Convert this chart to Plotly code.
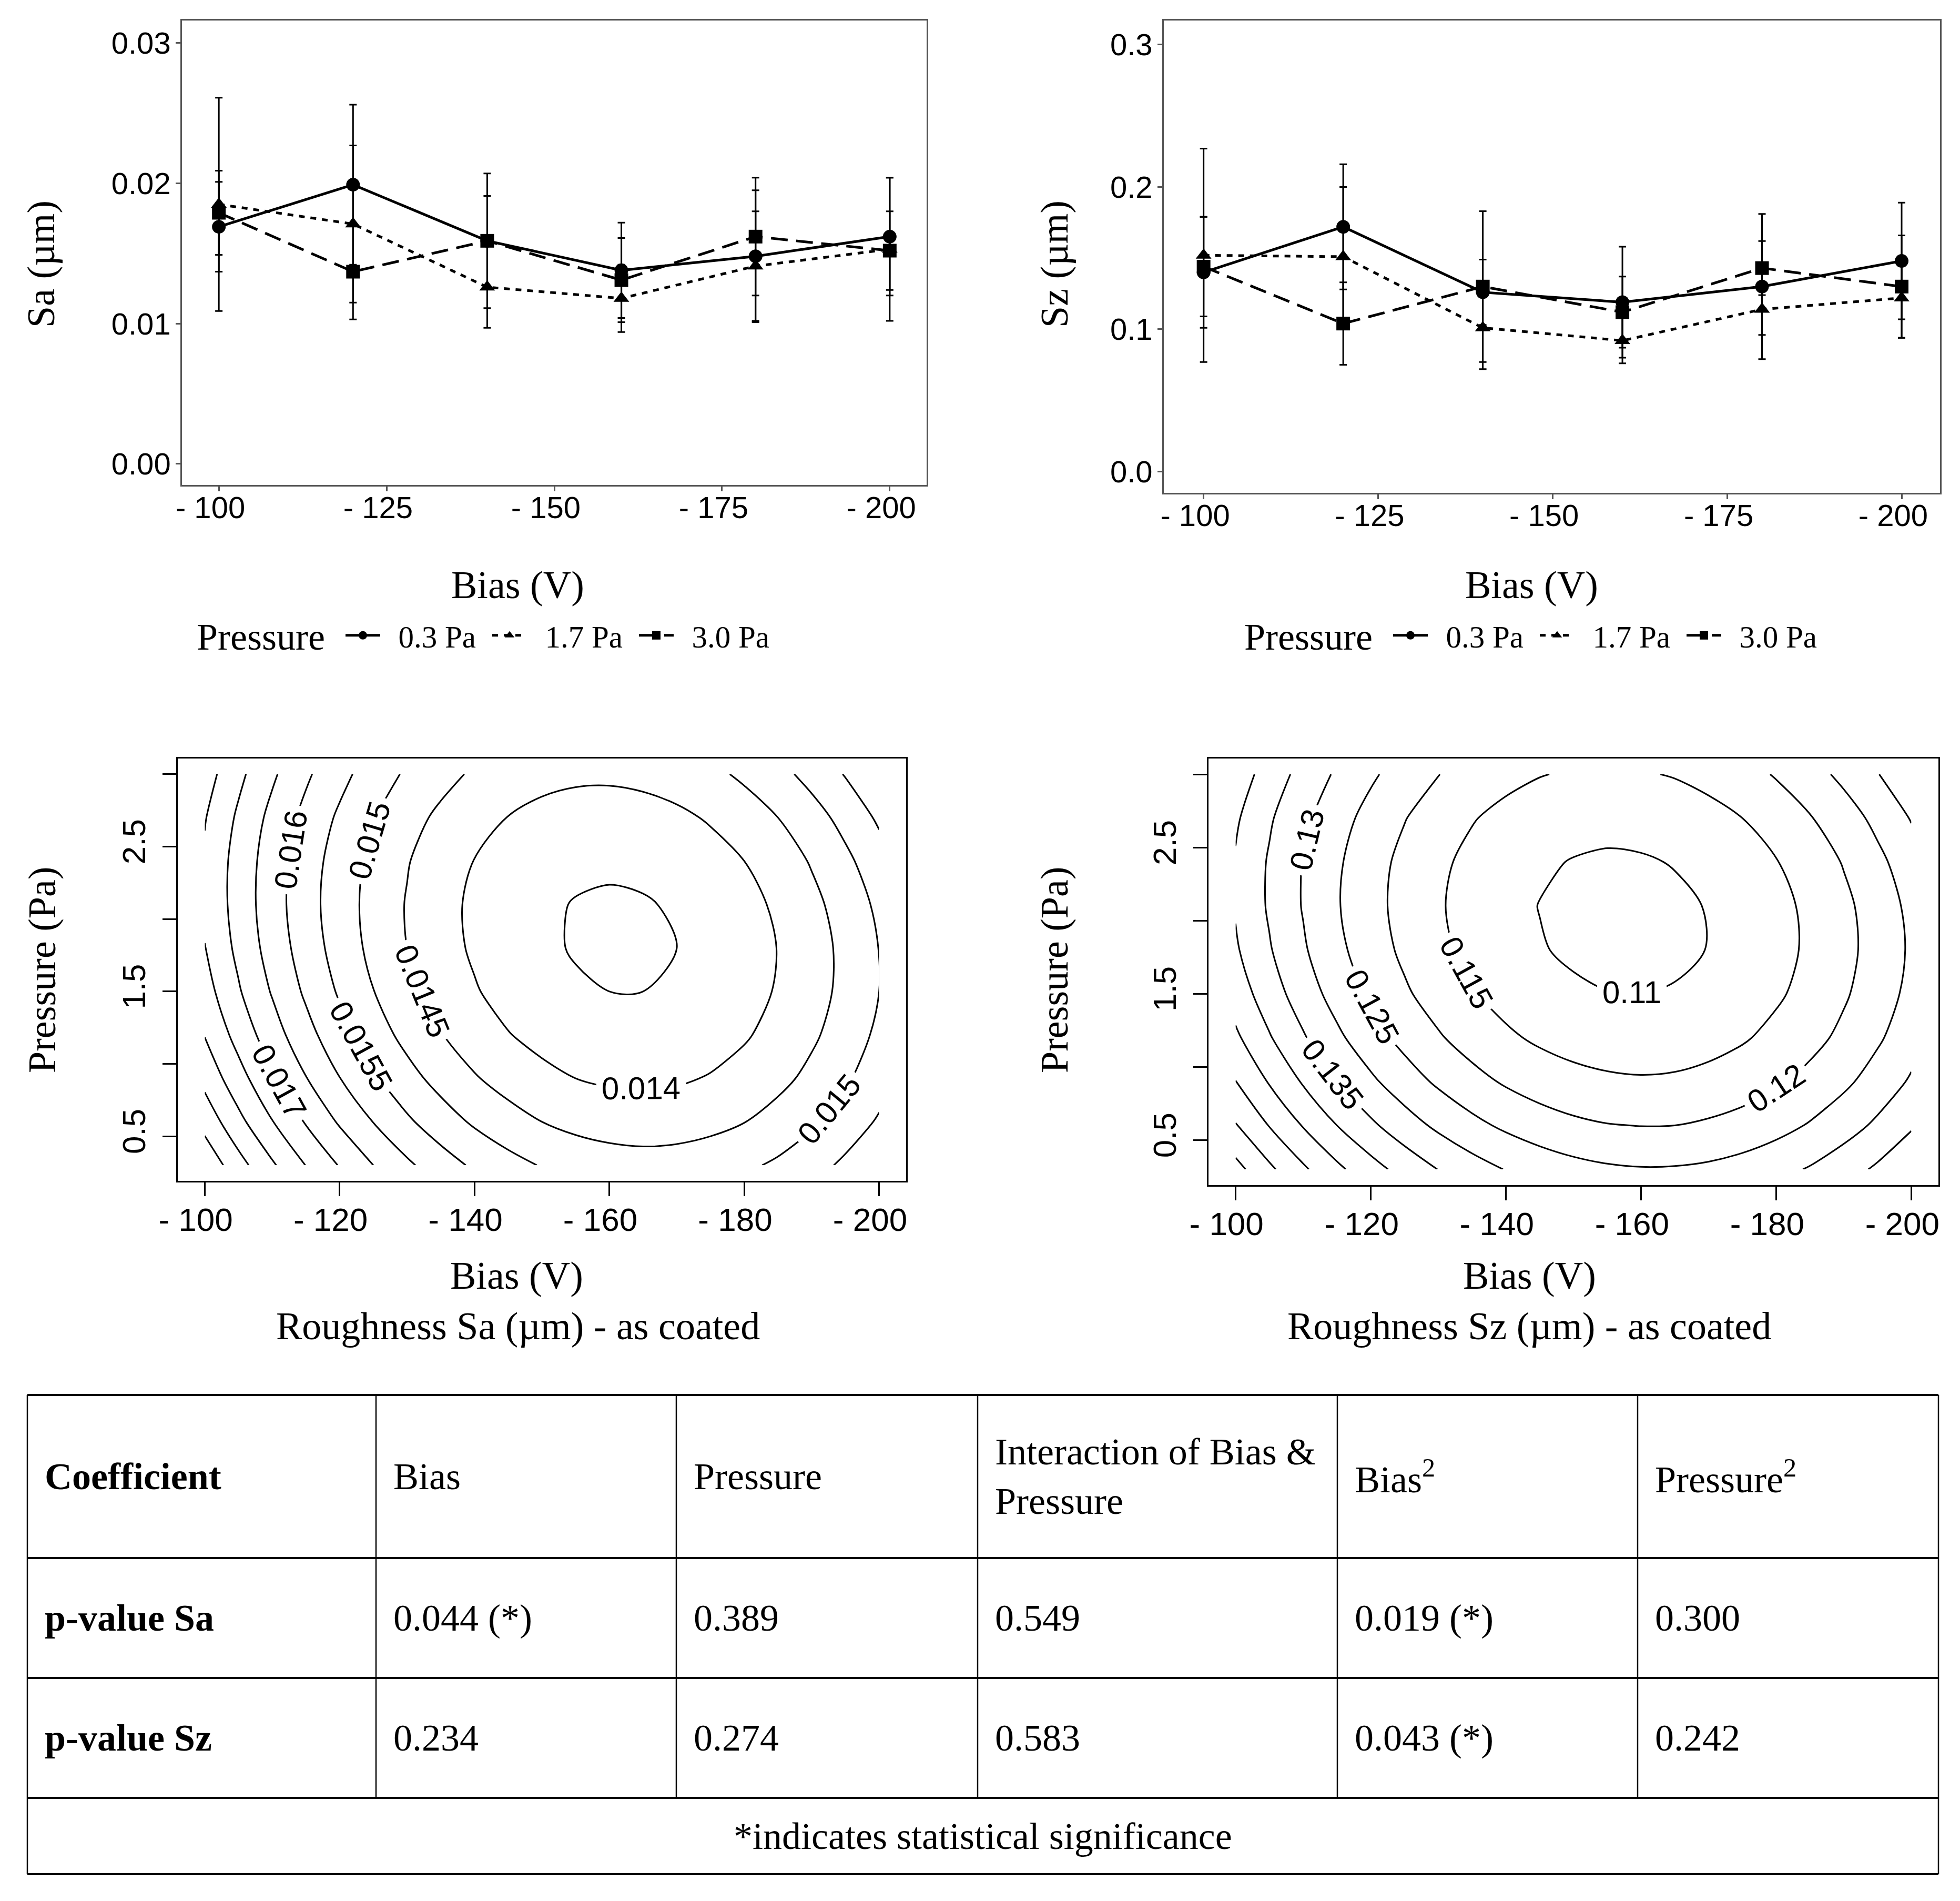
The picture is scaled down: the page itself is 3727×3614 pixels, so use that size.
import plotly.graph_objects as go

W, H = 3727, 3614
SERIF = 'Liberation Serif'
SANS = 'Liberation Sans'


def fx(p):
    return p / W


def fy(p):
    return 1 - p / H


# mean roughness vs bias voltage
bias = [-100, -120, -140, -160, -180, -200]
pressure_names = ['0.3 Pa', '1.7 Pa', '3.0 Pa']

sa_03 = [0.0169, 0.0199, 0.0159, 0.0138, 0.0148, 0.0162]
sa_17 = [0.0185, 0.0171, 0.0126, 0.0118, 0.0141, 0.0153]
sa_30 = [0.0179, 0.0137, 0.0159, 0.0131, 0.0162, 0.0152]
sa_03_err = [0.0032, 0.0057, 0.0048, 0.0034, 0.0047, 0.0042]
sa_17_err = [0.0076, 0.0056, 0.0029, 0.0024, 0.0039, 0.0051]
sa_30_err = [0.0030, 0.0034, 0.0032, 0.0030, 0.0042, 0.0028]

sz_03 = [0.140, 0.172, 0.126, 0.119, 0.130, 0.148]
sz_17 = [0.152, 0.151, 0.101, 0.092, 0.114, 0.122]
sz_30 = [0.144, 0.104, 0.130, 0.112, 0.143, 0.130]
sz_03_err = [0.039, 0.044, 0.023, 0.039, 0.051, 0.041]
sz_17_err = [0.075, 0.049, 0.029, 0.016, 0.018, 0.028]
sz_30_err = [0.035, 0.029, 0.053, 0.025, 0.019, 0.036]

# response surfaces, estimated from the contour plots on a 5 V x 0.3 Pa grid
bias_grid = [-100, -105, -110, -115, -120, -125, -130, -135, -140, -145, -150,
             -155, -160, -165, -170, -175, -180, -185, -190, -195, -200]
press_grid = [0.3, 0.6, 0.9, 1.2, 1.5, 1.8, 2.1, 2.4, 2.7, 3.0]

# Sa in units of 1e-5 um, one row per pressure
sa_grid_1e5 = [
    [1938, 1869, 1807, 1749, 1697, 1650, 1609, 1573, 1542, 1517, 1497, 1482, 1473, 1469, 1471, 1478, 1491, 1508, 1531, 1560, 1594],
    [1882, 1814, 1752, 1696, 1644, 1599, 1558, 1523, 1493, 1469, 1450, 1436, 1428, 1425, 1428, 1436, 1449, 1468, 1492, 1522, 1556],
    [1835, 1769, 1707, 1652, 1601, 1557, 1517, 1483, 1454, 1431, 1413, 1400, 1393, 1391, 1394, 1403, 1417, 1437, 1462, 1493, 1528],
    [1798, 1732, 1672, 1617, 1568, 1524, 1485, 1452, 1424, 1402, 1385, 1373, 1367, 1366, 1370, 1380, 1395, 1416, 1442, 1473, 1510],
    [1770, 1705, 1646, 1592, 1544, 1501, 1463, 1431, 1404, 1382, 1366, 1355, 1350, 1350, 1355, 1366, 1382, 1404, 1430, 1463, 1500],
    [1751, 1688, 1629, 1577, 1529, 1487, 1450, 1419, 1393, 1372, 1357, 1347, 1343, 1344, 1350, 1362, 1379, 1401, 1429, 1462, 1501],
    [1742, 1680, 1622, 1570, 1524, 1483, 1447, 1416, 1391, 1372, 1357, 1348, 1345, 1347, 1354, 1366, 1384, 1408, 1437, 1471, 1510],
    [1743, 1681, 1625, 1574, 1528, 1488, 1453, 1423, 1399, 1380, 1367, 1359, 1356, 1359, 1367, 1381, 1400, 1424, 1454, 1489, 1529],
    [1753, 1692, 1636, 1586, 1542, 1502, 1468, 1440, 1417, 1399, 1386, 1379, 1378, 1381, 1390, 1405, 1425, 1450, 1480, 1516, 1558],
    [1772, 1712, 1658, 1608, 1565, 1526, 1493, 1466, 1443, 1426, 1415, 1409, 1408, 1413, 1423, 1438, 1459, 1485, 1516, 1553, 1596],
]
# Sz in units of 1e-4 um, one row per pressure
sz_grid_1e4 = [
    [1617, 1560, 1508, 1461, 1419, 1382, 1349, 1321, 1298, 1280, 1266, 1257, 1253, 1254, 1259, 1269, 1285, 1304, 1329, 1358, 1392],
    [1553, 1498, 1447, 1400, 1359, 1322, 1290, 1263, 1241, 1223, 1210, 1202, 1199, 1200, 1207, 1218, 1233, 1254, 1279, 1309, 1344],
    [1501, 1446, 1395, 1350, 1309, 1273, 1242, 1216, 1194, 1177, 1165, 1158, 1155, 1157, 1164, 1176, 1193, 1214, 1240, 1271, 1306],
    [1459, 1404, 1355, 1310, 1270, 1235, 1205, 1179, 1158, 1142, 1131, 1124, 1122, 1125, 1133, 1145, 1163, 1185, 1211, 1243, 1279],
    [1427, 1374, 1325, 1281, 1242, 1207, 1178, 1153, 1133, 1117, 1107, 1101, 1100, 1103, 1112, 1125, 1143, 1166, 1194, 1226, 1263],
    [1406, 1354, 1306, 1262, 1224, 1190, 1161, 1137, 1118, 1103, 1093, 1088, 1088, 1092, 1101, 1115, 1134, 1158, 1186, 1219, 1257],
    [1396, 1344, 1297, 1254, 1216, 1184, 1155, 1132, 1113, 1099, 1090, 1086, 1086, 1092, 1102, 1116, 1136, 1160, 1189, 1223, 1262],
    [1396, 1345, 1298, 1257, 1220, 1187, 1160, 1137, 1119, 1106, 1098, 1094, 1096, 1102, 1112, 1128, 1148, 1173, 1203, 1238, 1277],
    [1407, 1356, 1311, 1270, 1233, 1202, 1175, 1153, 1136, 1124, 1116, 1113, 1115, 1122, 1134, 1150, 1171, 1197, 1227, 1263, 1303],
    [1428, 1378, 1333, 1293, 1258, 1227, 1201, 1180, 1164, 1152, 1145, 1143, 1146, 1153, 1165, 1182, 1204, 1231, 1262, 1298, 1339],
]
sa_grid = [[v / 1e5 for v in row] for row in sa_grid_1e5]
sz_grid = [[v / 1e4 for v in row] for row in sz_grid_1e4]

# regression table
table_header = ['<b>Coefficient</b>', 'Bias', 'Pressure', 'Interaction of Bias &<br>Pressure',
                'Bias<sup>2</sup>', 'Pressure<sup>2</sup>']
row_sa = ['<b>p-value Sa</b>', '0.044 (*)', '0.389', '0.549', '0.019 (*)', '0.300']
row_sz = ['<b>p-value Sz</b>', '0.234', '0.274', '0.583', '0.043 (*)', '0.242']
footnote = '*indicates statistical significance'

fig = go.Figure()

dashes = ['solid', '11px,11px', '32px,16px']
symbols = ['circle', 'triangle-up', 'square']
gap = '\u00a0\u00a0'  # space between legend glyph and its label

for name, y, e, d, s in zip(pressure_names, [sa_03, sa_17, sa_30], [sa_03_err, sa_17_err, sa_30_err], dashes, symbols):
    fig.add_scatter(x=bias, y=y, name=gap + name, mode='lines+markers', xaxis='x', yaxis='y', legend='legend',
                    line=dict(color='black', width=5, dash=d),
                    marker=dict(symbol=s, size=26, color='black'),
                    error_y=dict(type='data', array=e, color='black', thickness=3, width=7))

for name, y, e, d, s in zip(pressure_names, [sz_03, sz_17, sz_30], [sz_03_err, sz_17_err, sz_30_err], dashes, symbols):
    fig.add_scatter(x=bias, y=y, name=gap + name, mode='lines+markers', xaxis='x2', yaxis='y2', legend='legend2',
                    line=dict(color='black', width=5, dash=d),
                    marker=dict(symbol=s, size=26, color='black'),
                    error_y=dict(type='data', array=e, color='black', thickness=3, width=7))

black = [[0, 'black'], [1, 'black']]
lab_font = dict(family=SANS, size=60, color='black')
# innermost Sa ring is drawn without a label, as in the original
fig.add_contour(x=bias_grid, y=press_grid, z=sa_grid, xaxis='x3', yaxis='y3', showscale=False,
                colorscale=black, hoverinfo='skip', line=dict(width=3, smoothing=0.9),
                contours=dict(coloring='lines', start=0.0135, end=0.0135, size=0.0005, showlabels=False))
fig.add_contour(x=bias_grid, y=press_grid, z=sa_grid, xaxis='x3', yaxis='y3', showscale=False,
                colorscale=black, hoverinfo='skip', line=dict(width=3, smoothing=0.9),
                contours=dict(coloring='lines', start=0.014, end=0.0195, size=0.0005, showlabels=True,
                              labelformat='.4~f', labelfont=lab_font))
fig.add_contour(x=bias_grid, y=press_grid, z=sz_grid, xaxis='x4', yaxis='y4', showscale=False,
                colorscale=black, hoverinfo='skip', line=dict(width=3, smoothing=0.9),
                contours=dict(coloring='lines', start=0.11, end=0.16, size=0.005, showlabels=True,
                              labelformat='.3~f', labelfont=lab_font))

top_ax = dict(showline=True, mirror=True, linecolor='#555', linewidth=2.5, ticks='outside', ticklen=9,
              tickwidth=2.5, tickcolor='#555', showgrid=False, zeroline=False,
              tickfont=dict(family=SANS, size=58, color='black'))
con_ax = dict(showline=True, mirror=True, linecolor='black', linewidth=2.5, ticks='outside', ticklen=26,
              tickwidth=2.5, tickcolor='black', showgrid=False, zeroline=False,
              tickfont=dict(family=SANS, size=62, color='black'))
con_minor = dict(tickvals=[1, 2, 3], ticks='outside', ticklen=26, tickwidth=2.5, tickcolor='black')
bias_ticks5 = [-100, -125, -150, -175, -200]
bias_ticks6 = [-100, -120, -140, -160, -180, -200]
nb = '\u00a0\u00a0'


def bias_labels(vals):
    return ['- %d%s' % (-b, nb) for b in vals]


fig.update_layout(
    width=W, height=H, margin=dict(l=0, r=0, t=0, b=0, autoexpand=False),
    paper_bgcolor='white', plot_bgcolor='white', showlegend=True,
    xaxis=dict(top_ax, domain=[fx(346), fx(1762)], range=[-94.5, -205.5], anchor='y',
               tickvals=bias_ticks5, ticktext=bias_labels(bias_ticks5), ticklabelstandoff=-18),
    yaxis=dict(top_ax, domain=[fy(922), fy(39)], range=[-0.0015, 0.0316], anchor='x',
               tickvals=[0, 0.01, 0.02, 0.03], ticktext=['0.00', '0.01', '0.02', '0.03'],
               ticklabelstandoff=-2),
    xaxis2=dict(top_ax, domain=[fx(2213), fx(3689)], range=[-94.3, -205.5], anchor='y2',
                tickvals=bias_ticks5, ticktext=bias_labels(bias_ticks5), ticklabelstandoff=-18),
    yaxis2=dict(top_ax, domain=[fy(937), fy(39)], range=[-0.015, 0.317], anchor='x2',
                tickvals=[0, 0.1, 0.2, 0.3], ticktext=['0.0', '0.1', '0.2', '0.3'],
                ticklabelstandoff=-2),
    xaxis3=dict(con_ax, domain=[fx(338), fx(1723)], range=[-96, -204], anchor='y3',
                tickvals=bias_ticks6, ticktext=bias_labels(bias_ticks6), ticklabelstandoff=-8),
    yaxis3=dict(con_ax, domain=[fy(2245), fy(1442)], range=[0.192, 3.108], anchor='x3',
                tickvals=[0.5, 1.5, 2.5], ticktext=['0.5', '1.5', '2.5'], minor=con_minor,
                tickangle=-90, ticklabelstandoff=8),
    xaxis4=dict(con_ax, domain=[fx(2298), fx(3686)], range=[-96, -204], anchor='y4',
                tickvals=bias_ticks6, ticktext=bias_labels(bias_ticks6), ticklabelstandoff=-8),
    yaxis4=dict(con_ax, domain=[fy(2253), fy(1442)], range=[0.192, 3.108], anchor='x4',
                tickvals=[0.5, 1.5, 2.5], ticktext=['0.5', '1.5', '2.5'], minor=con_minor,
                tickangle=-90, ticklabelstandoff=8),
)

leg = dict(orientation='h', xanchor='left', yanchor='middle', bgcolor='rgba(0,0,0,0)',
           itemwidth=66, entrywidth=198, font=dict(family=SERIF, size=59, color='black'))
fig.update_layout(legend=dict(leg, x=fx(652), y=fy(1208)),
                  legend2=dict(leg, x=fx(2644), y=fy(1208)))


def note(text, x, y, size=74, angle=0, family=SERIF, xanchor='center'):
    fig.add_annotation(text=text, x=fx(x), y=fy(y), xref='paper', yref='paper', showarrow=False,
                       textangle=angle, xanchor=xanchor, yanchor='middle',
                       align='left' if xanchor == 'left' else 'center',
                       font=dict(family=family, size=size, color='black'))


note('Pressure', 372, 1211, size=72, xanchor='left')
note('Pressure', 2364, 1211, size=72, xanchor='left')
note('Sa (µm)', 78, 502, angle=-90)
note('Bias (V)', 984, 1112)
note('Sz (µm)', 2005, 502, angle=-90)
note('Bias (V)', 2912, 1112)
note('Pressure (Pa)', 80, 1844, angle=-90)
note('Bias (V)', 982, 2425)
note('Roughness Sa (µm) - as coated', 985, 2521)
note('Pressure (Pa)', 2005, 1844, angle=-90)
note('Bias (V)', 2908, 2425)
note('Roughness Sz (µm) - as coated', 2908, 2521)

# table grid
col_edges = [52, 715, 1286, 1859, 2543, 3114, 3686]
row_edges = [2652, 2962, 3190, 3418, 3563]
for y in row_edges:
    fig.add_shape(type='line', xref='paper', yref='paper', x0=fx(col_edges[0]), x1=fx(col_edges[-1]),
                  y0=fy(y), y1=fy(y), line=dict(color='black', width=4))
for i, x in enumerate(col_edges):
    bottom = row_edges[-1] if i in (0, len(col_edges) - 1) else row_edges[-2]
    fig.add_shape(type='line', xref='paper', yref='paper', x0=fx(x), x1=fx(x),
                  y0=fy(row_edges[0]), y1=fy(bottom), line=dict(color='black', width=2.5))

for r, row in enumerate([table_header, row_sa, row_sz]):
    yc = (row_edges[r] + row_edges[r + 1]) / 2
    for c, txt in enumerate(row):
        note(txt, col_edges[c] + 31, yc, size=72, xanchor='left')
note(footnote, (col_edges[0] + col_edges[-1]) / 2, (row_edges[3] + row_edges[4]) / 2, size=72)

fig.write_html('out.html', config={'displayModeBar': False},
               post_script="document.body.style.margin='0';document.body.style.overflow='hidden';")
